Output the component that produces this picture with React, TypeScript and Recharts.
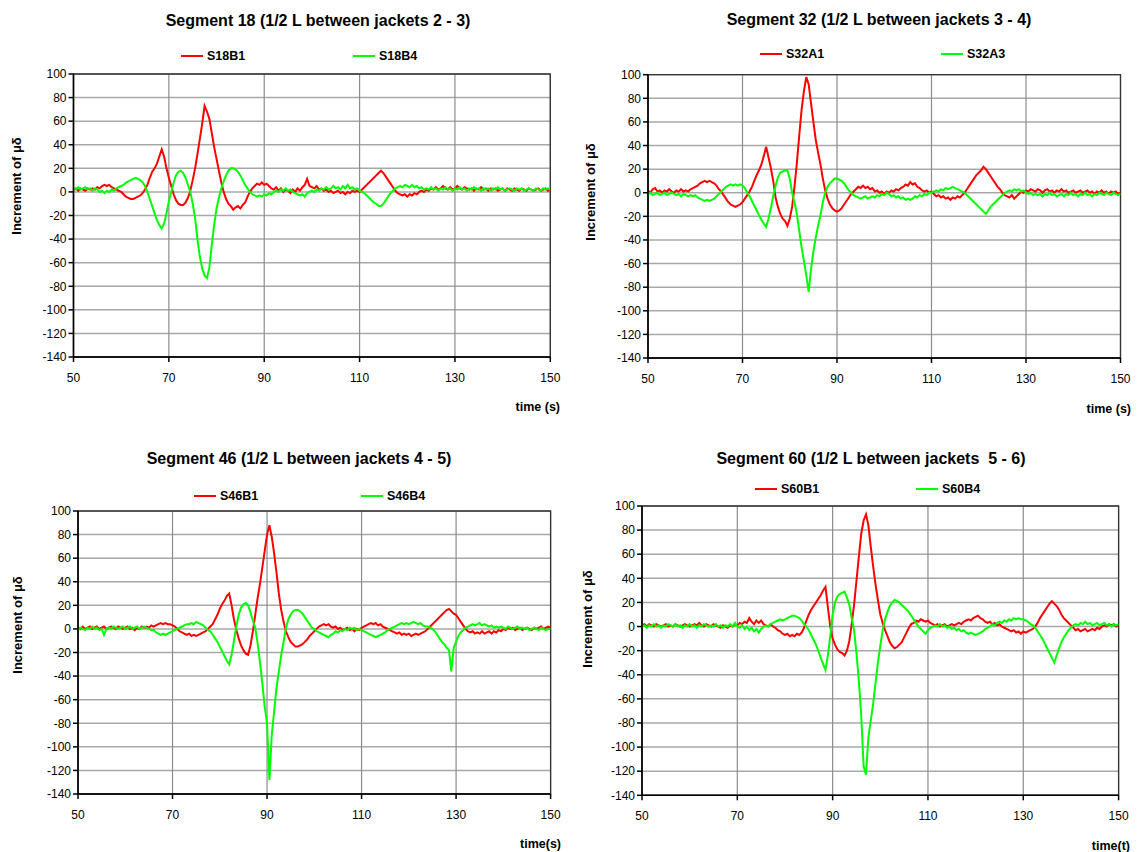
import { LineChart, Line, CartesianGrid, XAxis, YAxis, ReferenceArea } from 'recharts';

// sample times (s)
const TIME_S = [
  50, 50.5, 51, 51.5, 52, 52.5, 53, 53.5, 54, 54.5, 55, 55.5, 56, 56.5, 57, 57.5, 58, 58.5, 59, 59.5,
  60, 60.5, 61, 61.5, 62, 62.5, 63, 63.5, 64, 64.5, 65, 65.5, 66, 66.5, 67, 67.5, 68, 68.5, 69, 69.5,
  70, 70.5, 71, 71.5, 72, 72.5, 73, 73.5, 74, 74.5, 75, 75.5, 76, 76.5, 77, 77.5, 78, 78.5, 79, 79.5,
  80, 80.5, 81, 81.5, 82, 82.5, 83, 83.5, 84, 84.5, 85, 85.5, 86, 86.5, 87, 87.5, 88, 88.5, 89, 89.5,
  90, 90.5, 91, 91.5, 92, 92.5, 93, 93.5, 94, 94.5, 95, 95.5, 96, 96.5, 97, 97.5, 98, 98.5, 99, 99.5,
  100, 100.5, 101, 101.5, 102, 102.5, 103, 103.5, 104, 104.5, 105, 105.5, 106, 106.5, 107, 107.5, 108, 108.5, 109, 109.5,
  110, 110.5, 111, 111.5, 112, 112.5, 113, 113.5, 114, 114.5, 115, 115.5, 116, 116.5, 117, 117.5, 118, 118.5, 119, 119.5,
  120, 120.5, 121, 121.5, 122, 122.5, 123, 123.5, 124, 124.5, 125, 125.5, 126, 126.5, 127, 127.5, 128, 128.5, 129, 129.5,
  130, 130.5, 131, 131.5, 132, 132.5, 133, 133.5, 134, 134.5, 135, 135.5, 136, 136.5, 137, 137.5, 138, 138.5, 139, 139.5,
  140, 140.5, 141, 141.5, 142, 142.5, 143, 143.5, 144, 144.5, 145, 145.5, 146, 146.5, 147, 147.5, 148, 148.5, 149, 149.5,
  150,
];

const X_TICKS = [50, 70, 90, 110, 130, 150];
const Y_TICKS = [100, 80, 60, 40, 20, 0, -20, -40, -60, -80, -100, -120, -140];

// Segment 18
const S18B1 = [
  2, 3, 1, 3, 2, 1, 3, 2, 3, 2, 4, 3, 5, 6, 5, 6, 4, 3, 2, 1,
  0, -2, -4, -5, -6, -6, -5, -4, -3, -1, 2, 6, 12, 17, 20, 24, 30, 36, 30, 20,
  12, 5, -2, -7, -10, -11, -11, -9, -5, 1, 10, 20, 32, 45, 58, 73, 68, 62, 50, 38,
  28, 18, 8, 0, -6, -10, -12, -15, -13, -12, -14, -11, -9, -4, 0, 3, 5, 7, 6, 8,
  6, 7, 5, 3, 2, 4, 1, 3, 0, 2, 1, -1, 2, 0, 3, 1, 4, 6, 11, 5,
  4, 3, 5, 2, 3, 1, 2, 0, 1, -1, 0, 1, -1, 0, -2, 0, -1, 1, 0, 1,
  0, 2, 4, 6, 8, 10, 12, 14, 16, 18, 16, 13, 10, 7, 4, 1, -1, -2, -3, -2,
  -4, -2, -3, -1, -2, 0, 1, 0, 2, 1, 3, 2, 4, 2, 3, 5, 3, 2, 4, 2,
  3, 5, 3, 2, 4, 3, 2, 3, 1, 3, 2, 4, 2, 3, 1, 3, 2, 3, 1, 2,
  3, 1, 3, 2, 1, 3, 2, 1, 3, 2, 1, 3, 2, 1, 2, 3, 1, 2, 3, 1,
  2,
];
const S18B4 = [
  3, 2, 4, 2, 3, 4, 2, 3, 1, 3, 2, 0, 1, -1, 1, 0, 2, 1, 3, 4,
  5, 6, 8, 9, 10, 11, 12, 11, 10, 8, 5, 0, -6, -12, -18, -24, -28, -31, -27, -18,
  -8, 0, 8, 14, 17, 18, 16, 12, 6, 0, -10, -22, -40, -55, -65, -71, -73, -64, -45, -28,
  -14, -5, 3, 9, 14, 18, 20, 20, 19, 17, 14, 10, 6, 3, 0, -2, -3, -4, -3, -4,
  -2, -3, -1, -2, 0, 1, 0, 2, 1, 3, 1, 2, 0, -1, -2, -3, -2, -4, -1, 0,
  1, 0, 2, 1, 3, 2, 4, 2, 3, 5, 3, 4, 2, 5, 3, 6, 3, 4, 2, 3,
  1, 0, -1, -3, -5, -7, -9, -10, -12, -12, -10, -7, -4, -1, 1, 3, 4, 5, 4, 6,
  5, 4, 6, 4, 5, 3, 4, 2, 3, 2, 4, 2, 3, 1, 3, 2, 4, 2, 3, 1,
  3, 2, 4, 2, 3, 1, 3, 2, 4, 2, 3, 1, 3, 2, 3, 1, 3, 2, 4, 2,
  3, 1, 2, 3, 2, 1, 3, 2, 3, 1, 2, 3, 2, 1, 3, 2, 1, 3, 2, 3,
  2,
];

// Segment 32
const S32A1 = [
  2, 0, 3, 4, 1, 2, 0, 2, 1, 3, 1, 0, 2, 1, 3, 1, 2, 1, 3, 4,
  5, 6, 8, 9, 10, 9, 10, 9, 8, 6, 3, 1, -2, -5, -8, -10, -11, -12, -11, -10,
  -8, -5, -2, 1, 5, 10, 15, 19, 24, 31, 39, 30, 21, 10, -4, -12, -18, -22, -24, -28,
  -22, -12, 5, 25, 48, 70, 86, 98, 92, 76, 60, 45, 34, 24, 12, 2, -5, -10, -13, -15,
  -16, -15, -13, -10, -7, -4, -1, 1, 3, 5, 4, 6, 4, 5, 3, 4, 1, 2, 0, 1,
  -1, 1, 0, 2, 1, 3, 2, 4, 5, 7, 6, 9, 7, 8, 5, 4, 2, 1, 2, 0,
  1, -1, -3, -2, -4, -3, -5, -4, -6, -4, -5, -3, -4, -2, 0, 3, 6, 9, 12, 15,
  17, 19, 22, 20, 17, 14, 11, 8, 5, 3, 0, -2, -3, -4, -2, -5, -3, -1, 1, 0,
  2, 1, 3, 2, 1, 3, 2, 0, 2, 3, 1, 2, 0, 2, 1, 3, 1, 2, 0, 1,
  2, 0, 1, 2, 0, 1, 2, 0, 1, -1, 1, 0, 2, 0, 1, -1, 1, 0, 1, -1,
  0,
];
const S32A3 = [
  -1, 0, -2, -1, 0, -2, -1, 0, -2, -1, 0, -1, -2, -1, -3, -1, -2, -3, -2, -3,
  -2, -4, -5, -6, -7, -6, -7, -6, -5, -3, -1, 1, 3, 5, 6, 7, 6, 7, 6, 7,
  6, 4, 0, -3, -7, -11, -15, -19, -23, -26, -29, -22, -13, -3, 6, 13, 17, 18, 19, 19,
  12, 0, -8, -18, -32, -46, -58, -70, -84, -65, -50, -38, -28, -19, -8, 0, 5, 8, 10, 12,
  12, 11, 10, 8, 5, 2, 0, -2, -3, -4, -5, -4, -3, -5, -4, -3, -4, -2, -3, -1,
  -2, 0, -1, -3, -2, -4, -3, -5, -4, -6, -5, -6, -5, -3, -4, -2, -3, -1, -2, 0,
  0, 1, 2, 1, 3, 2, 4, 3, 4, 5, 4, 3, 2, 1, 0, -2, -4, -6, -8, -10,
  -12, -14, -16, -18, -15, -12, -10, -8, -6, -4, -2, 0, 1, 2, 1, 3, 2, 3, 1, 2,
  0, -1, 0, -2, -1, -2, -1, -3, -1, -2, 0, -2, -1, -3, -2, -1, -3, -1, -2, 0,
  -2, -1, -3, -1, -2, 0, -2, -1, -3, -1, -2, 0, -1, -2, 0, -1, -2, 0, -1, -2,
  -1,
];

// Segment 46
const S46B1 = [
  1, 0, 2, 0, 1, 2, 0, 1, 2, 0, 1, 2, 0, 1, 2, 1, 0, 2, 1, 0,
  1, 2, 0, 1, -1, 1, 0, 2, 1, 2, 1, 3, 2, 3, 4, 5, 4, 5, 4, 4,
  3, 2, 0, -2, -3, -4, -5, -4, -6, -5, -6, -5, -4, -3, -2, 0, 2, 4, 8, 12,
  17, 21, 24, 28, 30, 20, 8, -1, -8, -14, -18, -21, -22, -14, -2, 12, 26, 38, 52, 66,
  80, 88, 78, 64, 48, 30, 16, 6, -2, -7, -11, -13, -15, -15, -14, -13, -11, -9, -6, -4,
  -2, 0, 2, 3, 4, 3, 4, 2, 1, 2, 0, 1, -1, 0, 1, -1, 0, -2, 0, -1,
  1, 2, 3, 4, 5, 4, 5, 3, 4, 2, 1, 0, -1, -2, -3, -4, -3, -5, -4, -5,
  -4, -6, -5, -4, -5, -4, -3, -2, 0, 2, 4, 6, 8, 10, 12, 14, 16, 17, 15, 13,
  12, 9, 6, 3, 0, -2, -3, -2, -4, -3, -4, -2, -4, -3, -2, -4, -2, -3, -1, -2,
  0, -1, 1, 0, 1, -1, 0, 1, -1, 0, 1, 0, -1, 1, 0, 1, 2, 0, 1, 2,
  1,
];
const S46B4 = [
  -1, 1, 0, -1, 1, 0, 2, 0, 1, -1, 0, -5, 0, 1, 0, 2, 1, 0, 1, 2,
  0, 1, 2, 0, 1, 2, 0, 1, 2, 1, 0, -1, -1, -3, -4, -5, -4, -5, -4, -3,
  -2, -1, 0, 1, 2, 3, 4, 4, 5, 4, 6, 5, 4, 3, 1, -1, -2, -5, -8, -11,
  -15, -19, -23, -27, -30, -22, -10, 2, 12, 18, 21, 22, 20, 14, 7, 1, -12, -28, -46, -66,
  -80, -128, -90, -70, -50, -36, -22, -11, 1, 8, 12, 15, 16, 16, 15, 13, 10, 7, 4, 1,
  0, -2, -3, -4, -5, -6, -7, -5, -4, -2, -3, -1, -2, 0, -1, 1, 0, 1, -1, 0,
  -1, -2, -3, -4, -5, -6, -7, -6, -5, -4, -3, -1, 0, 1, 2, 3, 4, 5, 4, 5,
  4, 5, 6, 5, 4, 5, 3, 2, 2, 1, 0, -2, -5, -8, -11, -13, -16, -18, -36, -16,
  -11, -6, -3, -1, 1, 2, 3, 4, 3, 4, 5, 3, 4, 3, 2, 3, 1, 2, 1, 2,
  1, 0, 2, 1, 0, 1, 2, 0, 1, 0, 1, -1, 0, 1, 0, -1, 1, 0, -1, 0,
  0,
];

// Segment 60
const S60B1 = [
  1, 2, 0, 2, 1, 0, 2, 1, 0, 1, 2, 0, 1, 0, 2, 1, 0, 1, 2, 1,
  0, 1, 2, 1, 3, 1, 0, 2, 1, 0, 2, 1, 0, -1, 1, 0, -1, 1, 0, 2,
  1, 3, 2, 4, 3, 7, 4, 2, 5, 3, 5, 2, 1, 0, 2, 0, -1, -3, -4, -6,
  -7, -6, -8, -7, -8, -6, -7, -5, -1, 5, 10, 14, 17, 20, 23, 26, 30, 33, 16, 0,
  -10, -15, -19, -21, -22, -24, -20, -12, 2, 18, 38, 58, 77, 88, 93, 84, 66, 50, 35, 22,
  10, 3, -3, -8, -13, -16, -18, -17, -15, -13, -9, -5, -1, 2, 3, 5, 4, 6, 5, 4,
  5, 3, 2, 1, 2, 0, 1, 2, 0, 1, 2, 1, 2, 3, 2, 4, 5, 6, 5, 7,
  8, 9, 7, 6, 4, 3, 4, 2, 3, 1, 2, 0, -1, -2, -3, -4, -3, -5, -4, -6,
  -4, -5, -4, -3, -2, 0, 3, 7, 10, 13, 16, 19, 21, 19, 17, 14, 10, 7, 5, 3,
  1, -1, -3, -2, -4, -3, -2, -4, -3, -2, -3, -1, -2, 0, 1, 0, 2, 1, 2, 0,
  1,
];
const S60B4 = [
  0, 1, -1, 1, 0, 2, 0, 1, -1, 1, 0, 2, 1, 0, 2, 0, 1, -1, 1, 0,
  2, 0, 1, -1, 1, 0, 2, 1, 0, 1, 0, 2, 0, 1, -1, 1, 0, 2, 0, 3,
  0, -1, 1, -2, 0, -3, -1, -4, -2, -5, -2, 0, 1, 0, 2, 3, 4, 5, 6, 5,
  6, 7, 8, 9, 9, 8, 7, 5, 2, 0, -3, -7, -11, -15, -20, -26, -31, -36, -24, -8,
  10, 20, 25, 27, 28, 29, 24, 18, 7, -3, -22, -45, -74, -116, -123, -92, -78, -64, -47, -30,
  -16, -3, 6, 12, 17, 20, 22, 21, 20, 18, 16, 14, 12, 9, 6, 3, 0, -2, -4, -6,
  -3, -1, 0, 1, 0, 2, 0, 1, -1, 0, -2, -1, -3, -2, -4, -3, -5, -6, -5, -6,
  -7, -6, -5, -4, -2, -1, 0, 2, 1, 3, 4, 3, 5, 4, 6, 5, 7, 6, 7, 6,
  6, 5, 4, 2, 1, -1, -4, -7, -10, -14, -18, -22, -26, -30, -24, -18, -13, -9, -6, -3,
  -1, 1, 2, 1, 3, 2, 4, 2, 3, 1, 2, 3, 1, 2, 3, 1, 2, 0, 2, 1,
  2,
];

const FONT = '"Liberation Sans", Arial, Helvetica, sans-serif';
const RED = '#ff0000';
const GREEN = '#00ff00';

const PANELS = [
  {
    x: 0, y: 0, w: 568, h: 426,
    margin: { top: 74, right: 17.7, bottom: 39, left: 23.5 },
    title: 'Segment 18 (1/2 L between jackets 2 - 3)', titleX: 318, titleY: 21,
    redName: 'S18B1', greenName: 'S18B4', red: S18B1, green: S18B4,
    legY: 56, legRedX: 181, legGreenX: 353,
    xLabel: 'time (s)', xLabelRight: 560, xLabelY: 407,
    yLabelX: 16, yLabelY: 186,
  },
  {
    x: 568, y: 0, w: 569, h: 426,
    margin: { top: 74.7, right: 16.5, bottom: 38, left: 30 },
    title: 'Segment 32 (1/2 L between jackets 3 - 4)', titleX: 879, titleY: 20,
    redName: 'S32A1', greenName: 'S32A3', red: S32A1, green: S32A3,
    legY: 54, legRedX: 760, legGreenX: 941,
    xLabel: 'time (s)', xLabelRight: 1131, xLabelY: 409,
    yLabelX: 590, yLabelY: 192,
  },
  {
    x: 0, y: 426, w: 568, h: 426,
    margin: { top: 85, right: 17.4, bottom: 28, left: 28 },
    title: 'Segment 46 (1/2 L between jackets 4 - 5)', titleX: 299, titleY: 459,
    redName: 'S46B1', greenName: 'S46B4', red: S46B1, green: S46B4,
    legY: 496, legRedX: 194, legGreenX: 361,
    xLabel: 'time(s)', xLabelRight: 561, xLabelY: 844,
    yLabelX: 17, yLabelY: 625,
  },
  {
    x: 568, y: 426, w: 569, h: 426,
    margin: { top: 80, right: 18.4, bottom: 26.7, left: 24 },
    title: 'Segment 60 (1/2 L between jackets  5 - 6)', titleX: 871, titleY: 459,
    redName: 'S60B1', greenName: 'S60B4', red: S60B1, green: S60B4,
    legY: 489, legRedX: 755, legGreenX: 916,
    xLabel: 'time(t)', xLabelRight: 1130, xLabelY: 846,
    yLabelX: 587, yLabelY: 619,
  },
];

type PanelCfg = (typeof PANELS)[number];

const txt = (extra: React.CSSProperties): React.CSSProperties => ({
  position: 'absolute',
  fontFamily: FONT,
  color: '#000',
  lineHeight: 1,
  whiteSpace: 'pre',
  ...extra,
});

function LegendItem({ x, y, color, name }: { x: number; y: number; color: string; name: string }) {
  return (
    <>
      <div style={{ position: 'absolute', left: x, top: y - 1, width: 22, height: 2, background: color }} />
      <div style={txt({ left: x + 26, top: y, transform: 'translateY(-50%)', fontSize: 12.5, fontWeight: 'bold' })}>{name}</div>
    </>
  );
}

function Panel({ cfg }: { cfg: PanelCfg }) {
  const data = TIME_S.map((t, i) => ({ t, red: cfg.red[i], green: cfg.green[i] }));
  return (
    <>
      <div style={{ position: 'absolute', left: cfg.x, top: cfg.y }}>
        <LineChart width={cfg.w} height={cfg.h} data={data} margin={cfg.margin}>
          <CartesianGrid vertical={false} stroke="#a8a8a8" strokeWidth={1.5} />
          <CartesianGrid horizontal={false} stroke="#8c8c8c" strokeWidth={1.2} />
          <ReferenceArea x1={50} x2={150} y1={-140} y2={100} fill="none" stroke="#333" strokeWidth={1.3} ifOverflow="visible" />
          <XAxis
            dataKey="t"
            type="number"
            domain={[50, 150]}
            ticks={X_TICKS}
            interval={0}
            height={30}
            stroke="#000"
            strokeWidth={1.5}
            tickSize={5}
            tickMargin={11}
            tick={{ fill: '#000', fontSize: 12, fontFamily: FONT }}
            allowDataOverflow
          />
          <YAxis
            type="number"
            domain={[-140, 100]}
            ticks={Y_TICKS}
            interval={0}
            width={50}
            stroke="#000"
            strokeWidth={1.5}
            tickSize={5}
            tickMargin={2}
            tick={{ fill: '#000', fontSize: 12, fontFamily: FONT }}
            allowDataOverflow
          />
          <Line type="linear" dataKey="red" stroke={RED} strokeWidth={2} dot={false} isAnimationActive={false} />
          <Line type="linear" dataKey="green" stroke={GREEN} strokeWidth={2} dot={false} isAnimationActive={false} />
        </LineChart>
      </div>
      <div style={txt({ left: cfg.titleX, top: cfg.titleY, transform: 'translate(-50%, -50%)', fontSize: 16, fontWeight: 'bold' })}>
        {cfg.title}
      </div>
      <LegendItem x={cfg.legRedX} y={cfg.legY} color={RED} name={cfg.redName} />
      <LegendItem x={cfg.legGreenX} y={cfg.legY} color={GREEN} name={cfg.greenName} />
      <div style={txt({ left: cfg.xLabelRight, top: cfg.xLabelY, transform: 'translate(-100%, -50%)', fontSize: 12.5, fontWeight: 'bold' })}>
        {cfg.xLabel}
      </div>
      <div
        style={txt({
          left: cfg.yLabelX,
          top: cfg.yLabelY,
          transform: 'translate(-50%, -50%) rotate(-90deg)',
          fontSize: 13,
          fontWeight: 'bold',
        })}
      >
        Increment of μδ
      </div>
    </>
  );
}

export default function App() {
  return (
    <div style={{ position: 'absolute', left: 0, top: 0, width: 1137, height: 852, background: '#fff', overflow: 'hidden' }}>
      {PANELS.map((p) => (
        <Panel key={p.title} cfg={p} />
      ))}
    </div>
  );
}
